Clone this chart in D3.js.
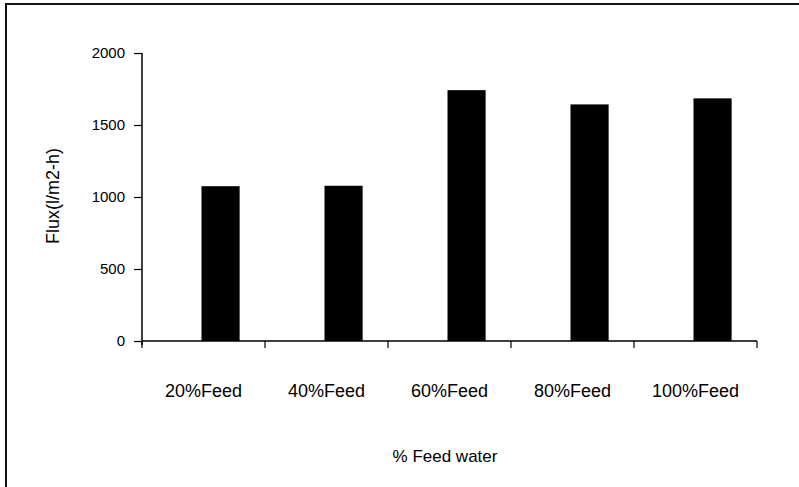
<!DOCTYPE html>
<html>
<head>
<meta charset="utf-8">
<script src="https://cdn.jsdelivr.net/npm/d3@7"></script>
<style>
  body { margin: 0; background: #fff; }
  svg { display: block; font-family: "Liberation Sans", Arial, sans-serif; }
</style>
</head>
<body>
<svg width="799" height="487"></svg>
<script>
const categories = ['20%Feed', '40%Feed', '60%Feed', '80%Feed', '100%Feed']
const flux = [1075, 1078, 1742, 1643, 1685]
const yTicks = [0, 500, 1000, 1500, 2000]

const svg = d3.select('svg')

// outer frame (right and bottom edges fall outside the picture)
svg.append('rect')
  .attr('x', 6).attr('y', 4)
  .attr('width', 820).attr('height', 520)
  .attr('fill', 'none')
  .attr('stroke', '#111')
  .attr('stroke-width', 2)

const x = d3.scaleBand().domain(categories).range([142, 757]).padding(0)
const y = d3.scaleLinear().domain([0, 2000]).range([341, 53])

const bw = x.bandwidth()

// bars sit a bit right of the band centre, like the original
svg.append('g')
  .selectAll('rect')
  .data(categories)
  .enter().append('rect')
  .attr('x', d => x(d) + bw / 2 - 2)
  .attr('width', bw * 0.31)
  .attr('y', (d, i) => y(flux[i]))
  .attr('height', (d, i) => y(0) - y(flux[i]))
  .attr('fill', '#000')

// y axis
const yAxis = svg.append('g')
  .attr('transform', `translate(${x.range()[0]},0)`)
  .call(d3.axisLeft(y).tickValues(yTicks).tickFormat(d3.format('d')).tickSize(8).tickPadding(9))
yAxis.attr('font-size', 15).attr('font-family', '"Liberation Sans", Arial, sans-serif')
yAxis.select('.domain').attr('stroke', '#000').attr('stroke-width', 1.5)
  .attr('d', `M0,${y(2000)}V${y(0) + 4}`)
yAxis.selectAll('.tick line').attr('stroke', '#000').attr('stroke-width', 1.2)
yAxis.selectAll('.tick text').attr('fill', '#000')

// x axis: ticks on band edges, labels in band centres
const xAxis = svg.append('g')
  .attr('transform', `translate(0,${y(0)})`)
xAxis.append('line')
  .attr('x1', x.range()[0]).attr('x2', x.range()[1])
  .attr('stroke', '#000').attr('stroke-width', 1.5)
const edges = categories.map(c => x(c)).concat([x.range()[1]])
xAxis.selectAll('.xt')
  .data(edges)
  .enter().append('line')
  .attr('class', 'xt')
  .attr('x1', d => d).attr('x2', d => d)
  .attr('y1', 0).attr('y2', 7)
  .attr('stroke', '#000').attr('stroke-width', 1.2)
xAxis.selectAll('text')
  .data(categories)
  .enter().append('text')
  .attr('x', d => x(d) + bw / 2)
  .attr('y', 56)
  .attr('text-anchor', 'middle')
  .attr('font-size', 18)
  .attr('fill', '#000')
  .text(d => d)

// axis titles
svg.append('text')
  .attr('x', 445).attr('y', 462)
  .attr('text-anchor', 'middle')
  .attr('font-size', 17)
  .attr('fill', '#000')
  .text('% Feed water')

svg.append('text')
  .attr('transform', 'translate(59,196) rotate(-90)')
  .attr('text-anchor', 'middle')
  .attr('font-size', 18)
  .attr('fill', '#000')
  .text('Flux(l/m2-h)')
</script>
</body>
</html>
